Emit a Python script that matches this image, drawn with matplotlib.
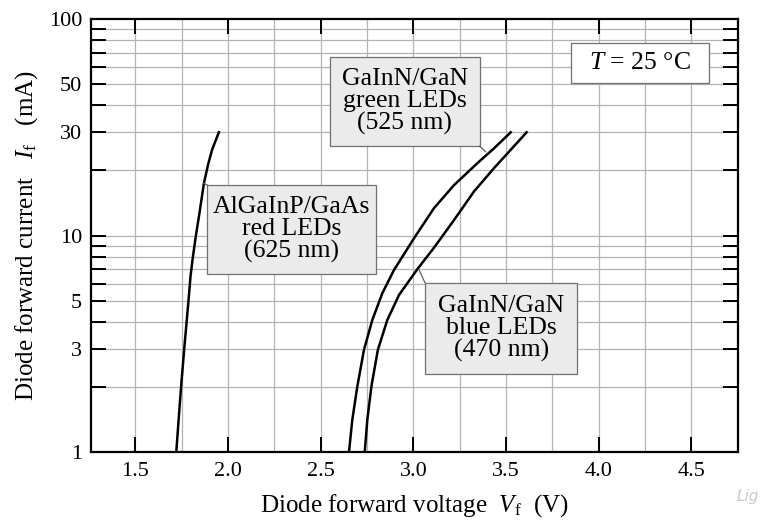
import numpy as np
import matplotlib
matplotlib.use("Agg")
import matplotlib.pyplot as plt
from matplotlib.patches import Rectangle
from matplotlib.ticker import FixedLocator, FixedFormatter, NullFormatter

# Данные: напряжение (В) и ток (мА)
red_v = [1.720, 1.735, 1.746, 1.763, 1.776, 1.786, 1.797, 1.810, 1.826, 1.847, 1.869, 1.893, 1.914, 1.950]
red_i = [1.0, 1.5, 2.0, 3.0, 4.0, 5.0, 6.5, 8.0, 10.0, 13.0, 17.4, 21.5, 25.0, 30.0]

green_v = [2.652, 2.670, 2.697, 2.733, 2.778, 2.832, 2.895, 3.003, 3.111, 3.219, 3.345, 3.435, 3.525]
green_i = [1.0, 1.41, 2.01, 2.97, 4.08, 5.42, 6.94, 9.72, 13.4, 17.1, 21.6, 25.3, 30.0]

blue_v = [2.737, 2.751, 2.773, 2.808, 2.859, 2.922, 3.021, 3.111, 3.219, 3.327, 3.435, 3.525, 3.611]
blue_i = [1.0, 1.41, 2.01, 2.97, 4.08, 5.32, 7.0, 8.8, 11.8, 16.0, 20.5, 24.9, 30.0]

x_ticks = [1.5, 2.0, 2.5, 3.0, 3.5, 4.0, 4.5]
x_grid = [1.5, 1.75, 2.0, 2.25, 2.5, 2.75, 3.0, 3.25, 3.5, 3.75, 4.0, 4.25, 4.5, 4.75]
y_ticks = [1, 3, 5, 10, 30, 50, 100]
y_minor = [2, 4, 6, 7, 8, 9, 20, 40, 60, 70, 80, 90]

red_label = "AlGaInP/GaAs\nred LEDs\n(625 nm)"
green_label = "GaInN/GaN\ngreen LEDs\n(525 nm)"
blue_label = "GaInN/GaN\nblue LEDs\n(470 nm)"
temp_label = "$T$ = 25 °C"

plt.rcParams['font.family'] = ['Liberation Serif', 'DejaVu Serif']
plt.rcParams['mathtext.fontset'] = 'custom'
plt.rcParams['mathtext.rm'] = 'Liberation Serif'
plt.rcParams['mathtext.it'] = 'Liberation Serif:italic'

fig = plt.figure(figsize=(7.61, 5.23), dpi=100)
ax = fig.add_axes([0.1196, 0.1352, 0.8498, 0.8285])
ax.set_yscale('log')
ax.set_xlim(1.26, 4.75)
ax.set_ylim(1, 100)

# сетка
for v in x_grid:
    ax.axvline(v, color='#b4b4b4', lw=0.9, zorder=0)
for v in y_minor + y_ticks[1:-1]:
    ax.axhline(v, color='#b4b4b4', lw=0.9, zorder=0)

# кривые
for xs, ys in [(red_v, red_i), (green_v, green_i), (blue_v, blue_i)]:
    ax.plot(xs, ys, color='black', lw=1.8, zorder=3, solid_joinstyle='round')

# оси и деления
ax.xaxis.set_major_locator(FixedLocator(x_ticks))
ax.xaxis.set_major_formatter(FixedFormatter([f"{t:.1f}" for t in x_ticks]))
ax.xaxis.set_minor_locator(FixedLocator([]))
ax.yaxis.set_major_locator(FixedLocator(y_ticks))
ax.yaxis.set_major_formatter(FixedFormatter([str(t) for t in y_ticks]))
ax.yaxis.set_minor_locator(FixedLocator(y_minor))
ax.yaxis.set_minor_formatter(NullFormatter())
ax.tick_params(axis='both', which='both', direction='in', length=11, width=1.4,
               top=True, right=True, labelsize=16)
ax.tick_params(axis='x', pad=7)
ax.tick_params(axis='y', pad=6.5)
for s in ax.spines.values():
    s.set_linewidth(1.6)

ax.set_xlabel("Diode forward voltage  $V_\\mathrm{f}$  (V)", fontsize=18, labelpad=8)
ax.set_ylabel("Diode forward current   $I_\\mathrm{f}$   (mA)", fontsize=18, labelpad=6)

# подписи в рамках
def label_box(x0, x1, y0, y1, text, face):
    ax.add_patch(Rectangle((x0, y0), x1 - x0, y1 - y0, facecolor=face,
                           edgecolor='#707070', lw=0.9, zorder=4))
    xc = (x0 + x1) / 2
    yc = np.sqrt(y0 * y1)
    ax.text(xc, yc, text, ha='center', va='center', fontsize=18.5,
            linespacing=1.0, zorder=5)

label_box(1.887, 2.796, 6.65, 17.13, red_label, '#ebebeb')
label_box(2.549, 3.357, 25.9, 66.6, green_label, '#ebebeb')
label_box(3.062, 3.885, 2.30, 6.07, blue_label, '#ebebeb')
label_box(3.849, 4.596, 50.5, 77.2, temp_label, 'white')

# выноски
ax.plot([1.887, 1.869], [17.13, 17.45], color='#606060', lw=0.9, zorder=4)
ax.plot([3.357, 3.389], [25.9, 24.4], color='#606060', lw=0.9, zorder=4)
ax.plot([3.062, 3.030], [6.07, 6.95], color='#606060', lw=0.9, zorder=4)

fig.text(0.997, 0.05, "Lig", fontsize=11, color='#c8c8c8', style='italic',
         family='DejaVu Sans', ha='right', va='center')

plt.savefig("out.png", dpi=100)
